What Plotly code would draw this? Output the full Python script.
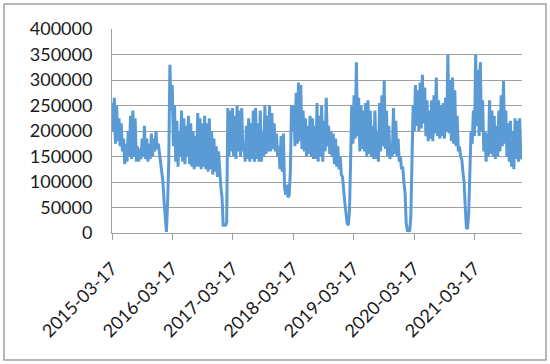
import pandas as pd
import plotly.graph_objects as go

# weekly readings (thousands), starting 2015-03-17
values_k = [
    # 2015-03 .. 2016-03
    255,200,265,175,250,180,225,170,215,160, 185,135,175,140,200,150,230,145,240,150,
    225,140,170,140,165,145,185,150,210,145, 185,140,175,145,195,150,185,160,200,165,
    175,155,140,115,100,60,25,2,60,140, 330,240,
    # 2016-03 .. 2017-03
    290,170,250,140,220,130,200,150,240,140, 225,135,210,150,230,135,215,130,200,125,
    190,130,235,130,225,125,215,130,230,125, 215,120,225,125,200,115,185,120,170,110,
    160,110,90,70,15,15,15,20,245,150, 240,160,
    # 2017-03 .. 2018-03
    245,150,230,145,250,160,240,150,245,160, 175,140,210,145,225,140,215,145,240,140,
    245,145,215,140,240,140,200,150,250,155, 230,160,250,160,235,165,215,160,195,150,
    170,125,190,120,195,90,75,95,70,75, 120,250,
    # 2018-03 .. 2019-03
    200,250,170,275,175,295,180,290,165,240, 160,225,150,210,155,230,150,225,145,210,
    145,255,140,230,150,250,140,220,160,265, 170,210,155,200,150,195,135,185,130,170,
    125,150,115,110,80,60,40,20,15,40, 140,250,
    # 2019-03 .. 2020-03
    175,270,185,335,190,265,160,250,165,240, 160,255,150,260,155,240,150,210,145,240,
    145,200,140,255,160,270,170,300,165,240, 150,210,145,170,150,245,155,220,150,185,
    140,150,125,130,100,80,20,5,5,3, 30,150,
    # 2020-03 .. 2021-03
    250,200,290,210,280,200,295,205,310,215, 285,190,260,180,240,185,260,180,270,195,
    305,190,260,185,250,190,255,185,265,200, 350,195,300,180,305,175,280,170,230,160,
    170,150,145,120,100,50,10,8,40,120, 200,175,
    # 2021-03 .. 2021-12
    240,190,350,210,320,190,335,200,260,160, 200,140,195,150,260,155,240,150,230,145,
    210,150,240,160,270,170,298,175,240,150, 215,140,220,130,200,125,225,145,220,140,
    225,150,145,
]
values = [v * 1000 for v in values_k]
dates = pd.date_range("2015-03-17", periods=len(values), freq="7D")

tick_dates = ["2015-03-17", "2016-03-17", "2017-03-17", "2018-03-17",
              "2019-03-17", "2020-03-17", "2021-03-17"]
tick_labels = tick_dates
y_ticks = [0, 50000, 100000, 150000, 200000, 250000, 300000, 350000, 400000]

fig = go.Figure()
fig.add_trace(go.Scatter(x=dates, y=values, mode="lines",
                         line=dict(color="#5B9BD5", width=3),
                         showlegend=False))

font = dict(family="Lato, Carlito, Calibri, sans-serif", size=18, color="#1a1a1a")
grid = "#A0A0A0"
fig.update_layout(
    width=550, height=364,
    margin=dict(l=112, r=28, t=29, b=131, autoexpand=False),
    paper_bgcolor="white", plot_bgcolor="white",
    font=font,
    xaxis=dict(type="date", range=[dates[0], dates[-1]], automargin=False,
               tickvals=tick_dates, ticktext=tick_labels, tickangle=-45,
               ticks="outside", ticklen=6, tickcolor=grid, tickwidth=1,
               ticklabelstandoff=11,
               showgrid=False, showline=True, linecolor=grid, linewidth=1,
               zeroline=False, tickfont=font),
    yaxis=dict(range=[0, 400000], tickvals=y_ticks, tickformat="d", automargin=False,
               showgrid=True, gridcolor=grid, gridwidth=1,
               showline=True, linecolor=grid, linewidth=1,
               zeroline=False, ticks="", ticklabelstandoff=15, tickfont=font),
    shapes=[dict(type="rect", xref="paper", yref="paper",
                 x0=(4 - 112) / 410, x1=(546 - 112) / 410,
                 y0=(233 - 360) / 204, y1=(233 - 4) / 204,
                 line=dict(color="#A0A0A0", width=1.5), fillcolor="rgba(0,0,0,0)",
                 layer="below")],
)
fig.write_html("out.html", config={"displayModeBar": False},
               post_script="document.body.style.margin='0px';document.body.style.overflow='hidden';")
